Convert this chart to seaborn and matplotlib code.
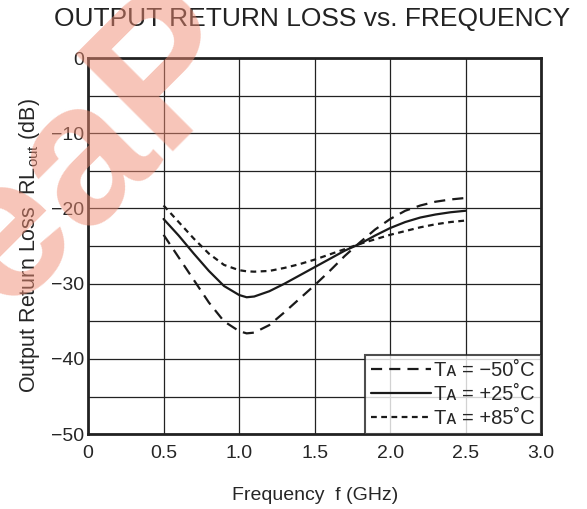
import numpy as np
import pandas as pd
import matplotlib
matplotlib.use('Agg')
import matplotlib.pyplot as plt
import seaborn as sns

# Data
freq = [0.5, 0.6, 0.7, 0.8, 0.9, 1.0, 1.05, 1.1, 1.2, 1.3, 1.4, 1.5,
        1.6, 1.7, 1.8, 1.9, 2.0, 2.1, 2.2, 2.3, 2.4, 2.5]
rl_m50 = [-23.5, -26.5, -29.5, -32.5, -35.0, -36.3, -36.6, -36.5, -35.5, -33.8, -32.0, -30.2,
          -28.3, -26.3, -24.5, -22.8, -21.4, -20.3, -19.6, -19.1, -18.8, -18.6]
rl_p25 = [-21.4, -23.6, -26.0, -28.3, -30.3, -31.5, -31.8, -31.7, -31.0, -30.0, -28.9, -27.8,
          -26.7, -25.6, -24.7, -23.6, -22.6, -21.8, -21.2, -20.8, -20.5, -20.3]
rl_p85 = [-19.6, -21.8, -24.0, -26.0, -27.5, -28.2, -28.35, -28.4, -28.3, -27.9, -27.4, -26.8,
          -26.1, -25.4, -24.7, -24.1, -23.5, -23.0, -22.5, -22.1, -21.8, -21.6]
labels = ['T\u1d00 = \u221250\u02daC',
          'T\u1d00 = +25\u02daC',
          'T\u1d00 = +85\u02daC']
x_ticks = [0, 0.5, 1.0, 1.5, 2.0, 2.5, 3.0]
x_ticklabels = ['0', '0.5', '1.0', '1.5', '2.0', '2.5', '3.0']
y_ticks = [0, -10, -20, -30, -40, -50]
y_ticklabels = ['0', '\u221210', '\u221220', '\u221230', '\u221240', '\u221250']

sns.set_style('white')
plt.rcParams['font.family'] = ['Liberation Sans', 'DejaVu Sans']
plt.rcParams['mathtext.fontset'] = 'custom'
plt.rcParams['mathtext.rm'] = 'Liberation Sans'

fig = plt.figure(figsize=(5.87, 5.09), dpi=100)
ax = fig.add_axes([0.150, 0.147, 0.772, 0.739])

df = pd.DataFrame({
    'freq': freq * 3,
    'rl': rl_m50 + rl_p25 + rl_p85,
    'temp': [labels[0]] * len(freq) + [labels[1]] * len(freq) + [labels[2]] * len(freq),
})
dash_map = {labels[0]: (5, 3.2), labels[1]: '', labels[2]: (2.6, 2.0)}
sns.lineplot(data=df, x='freq', y='rl', hue='temp', style='temp',
             palette=['#1a1a1a'] * 3, dashes=dash_map, linewidth=1.6, ax=ax, zorder=3)

ax.set_xlim(0, 3.0)
ax.set_ylim(-50, 0)
ax.set_xticks(x_ticks)
ax.set_xticklabels(x_ticklabels, fontsize=14)
ax.set_yticks(y_ticks)
ax.set_yticklabels(y_ticklabels, fontsize=14)
ax.set_yticks(np.arange(-45, 0, 10), minor=True)
ax.tick_params(axis='x', which='both', length=0, pad=8)
ax.tick_params(axis='y', which='both', length=0, pad=3)
ax.grid(True, which='both', color='#222222', linewidth=0.9)
for s in ax.spines.values():
    s.set_color('#222222')
    s.set_linewidth(2.0)

ax.set_xlabel('Frequency  f (GHz)', fontsize=14, labelpad=18)
ax.set_ylabel('Output Return Loss  RL$\\mathregular{_{out}}$ (dB)', fontsize=15.5, labelpad=6)
fig.text(0.532, 0.963, 'OUTPUT RETURN LOSS vs. FREQUENCY', ha='center', va='center',
         fontsize=19, color='#222222')

leg = ax.legend(loc='lower right', fontsize=14.5, handlelength=3.0, handletextpad=0.15,
                borderaxespad=0, frameon=True, fancybox=False, borderpad=0.3,
                labelspacing=0.25)
leg.get_frame().set_edgecolor('#222222')
leg.get_frame().set_linewidth(1.5)
leg.set_zorder(5)

# watermark
fig.text(0.16, 0.705, 'eaP', rotation=45, fontsize=145, fontweight='bold',
         color='#f08c73', alpha=0.5, ha='center', va='center', zorder=10)

fig.savefig('out.png', dpi=100)
